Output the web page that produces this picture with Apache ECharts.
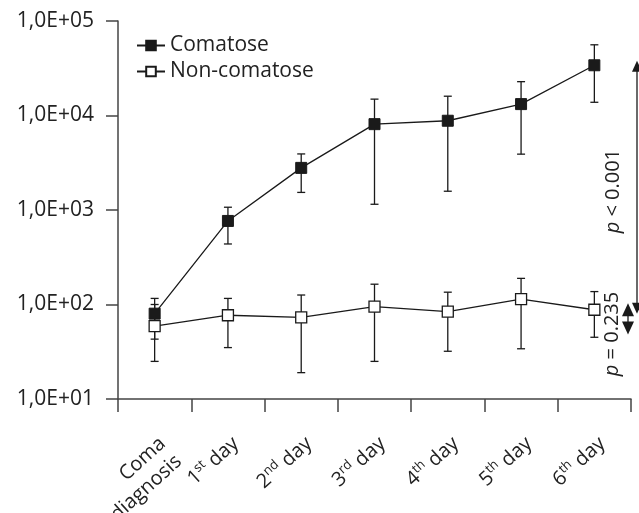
<!DOCTYPE html>
<html><head><meta charset="utf-8">
<script src="https://cdn.jsdelivr.net/npm/echarts@6/dist/echarts.min.js"></script>
<style>html,body{margin:0;padding:0;background:#fff}#c{width:639px;height:513px}</style>
</head><body><div id="c"></div>
<script>
// ---- data ----
const categories = ['Coma diagnosis','1st day','2nd day','3rd day','4th day','5th day','6th day'];
const xTickLabels = ['     Coma\ndiagnosis','1{sup|st} day','2{sup|nd} day','3{sup|rd} day','4{sup|th} day','5{sup|th} day','6{sup|th} day'];
const comaMean = [80, 766, 2790, 8100, 8800, 13200, 34000];
const comaLow  = [43, 437, 1535, 1150, 1580, 3900, 13800];
const comaHigh = [116, 1070, 3920, 14900, 16000, 22800, 56000];
const nonMean  = [59, 77, 73, 95, 84, 114, 88];
const nonLow   = [25, 35, 19, 25, 32, 34, 45];
const nonHigh  = [100, 116, 126, 164, 135, 189, 137];
const yTickLabels = ['1,0E+01','1,0E+02','1,0E+03','1,0E+04','1,0E+05'];
const pBigRange = [80, 38000];   // p < 0.001 arrow span
const pSmallRange = [48, 103];   // p = 0.235 arrow span
const pBigText = '{i|p} < 0.001';
const pSmallText = '{i|p} = 0.235';

const FONT = 'Open Sans';
const INK = '#1a1a1a';
const AX = '#444';
const TXT = '#222';

function errData(lo, hi) { return lo.map((v, i) => [i, v, hi[i]]); }

function errRender(params, api) {
  const i = api.value(0);
  const top = api.coord([i, api.value(2)]);
  const bot = api.coord([i, api.value(1)]);
  const w = 4;
  const st = { stroke: INK, lineWidth: 1.3 };
  return { type: 'group', children: [
    { type: 'line', shape: { x1: top[0], y1: top[1], x2: bot[0], y2: bot[1] }, style: st },
    { type: 'line', shape: { x1: top[0]-w, y1: top[1], x2: top[0]+w, y2: top[1] }, style: st },
    { type: 'line', shape: { x1: bot[0]-w, y1: bot[1], x2: bot[0]+w, y2: bot[1] }, style: st }
  ]};
}

const chart = echarts.init(document.getElementById('c'), null, { renderer: 'canvas' });
const gridL = 118, gridR = 8, gridT = 21, gridB = 114;
chart.setOption({
  animation: false,
  backgroundColor: '#fff',
  textStyle: { fontFamily: FONT },
  grid: { left: gridL, right: gridR, top: gridT, bottom: gridB, containLabel: false, outerBoundsMode: 'none' },
  legend: {
    data: ['Comatose', 'Non-comatose'],
    orient: 'vertical', left: 131, top: 30,
    itemWidth: 28, itemHeight: 12, itemGap: 5,
    textStyle: { fontSize: 21, color: TXT, fontFamily: FONT }
  },
  xAxis: {
    type: 'category', data: categories, boundaryGap: true,
    axisLine: { lineStyle: { color: AX, width: 1.5 } },
    axisTick: { show: true, length: 13, inside: false, alignWithLabel: false, lineStyle: { color: AX, width: 1.5 } },
    axisLabel: {
      interval: 0, rotate: 42, margin: 33, color: TXT, fontSize: 20, fontFamily: FONT,
      align: 'right', verticalAlign: 'top', lineHeight: 24,
      formatter: (v, i) => xTickLabels[i],
      rich: {
        sup: { fontSize: 13, verticalAlign: 'top', color: TXT, fontFamily: FONT }
      }
    },
    splitLine: { show: false }
  },
  yAxis: {
    type: 'log', logBase: 10, min: 10, max: 100000,
    axisLine: { show: true, lineStyle: { color: AX, width: 1.5 } },
    axisTick: { show: true, length: 12, lineStyle: { color: AX, width: 1.5 } },
    axisLabel: {
      margin: 24, color: TXT, fontSize: 21, fontFamily: FONT,
      formatter: v => yTickLabels[Math.round(Math.log10(v)) - 1]
    },
    splitLine: { show: false }
  },
  series: [
    { name: 'ComaErr', type: 'custom', renderItem: errRender, data: errData(comaLow, comaHigh), z: 1, silent: true },
    { name: 'NonErr', type: 'custom', renderItem: errRender, data: errData(nonLow, nonHigh), z: 1, silent: true },
    { name: 'Comatose', type: 'line', data: comaMean, symbol: 'rect', symbolSize: 11,
      itemStyle: { color: INK, borderColor: INK, borderWidth: 1 },
      lineStyle: { color: INK, width: 1.3 }, z: 3 },
    { name: 'Non-comatose', type: 'line', data: nonMean, symbol: 'rect', symbolSize: 11,
      itemStyle: { color: '#fff', borderColor: INK, borderWidth: 1.3 },
      lineStyle: { color: INK, width: 1.3 }, z: 4 }
  ]
});

function arrow(x, yTop, yBot, head, hw) {
  return [
    { type: 'line', shape: { x1: x, y1: yTop + head - 1, x2: x, y2: yBot - head + 1 }, style: { stroke: INK, lineWidth: 1.3 }, z: 10 },
    { type: 'polygon', shape: { points: [[x, yTop], [x - hw, yTop + head], [x + hw, yTop + head]] }, style: { fill: INK }, z: 10 },
    { type: 'polygon', shape: { points: [[x, yBot], [x - hw, yBot - head], [x + hw, yBot - head]] }, style: { fill: INK }, z: 10 }
  ];
}

const W = chart.getWidth();
const xr = W - gridR;
const yBigTop = chart.convertToPixel({ yAxisIndex: 0 }, pBigRange[1]);
const yBigBot = chart.convertToPixel({ yAxisIndex: 0 }, pBigRange[0]);
const ySmTop = chart.convertToPixel({ yAxisIndex: 0 }, pSmallRange[1]);
const ySmBot = chart.convertToPixel({ yAxisIndex: 0 }, pSmallRange[0]);
const txtStyle = (t) => ({ text: t, fontSize: 20, fontFamily: FONT, fill: TXT, align: 'center', verticalAlign: 'middle',
  rich: { i: { fontStyle: 'italic', fontSize: 20, fontFamily: FONT, fill: TXT } } });
chart.setOption({
  graphic: [
    ...arrow(xr + 6, yBigTop, yBigBot, 11, 5),
    ...arrow(xr - 3, ySmTop, ySmBot, 13, 6),
    { type: 'text', x: xr - 18, y: (yBigTop + yBigBot) / 2 + 4, rotation: Math.PI / 2, style: txtStyle(pBigText), z: 10 },
    { type: 'text', x: xr - 19, y: (ySmTop + ySmBot) / 2 + 15, rotation: Math.PI / 2, style: txtStyle(pSmallText), z: 10 }
  ]
});
</script></body></html>
